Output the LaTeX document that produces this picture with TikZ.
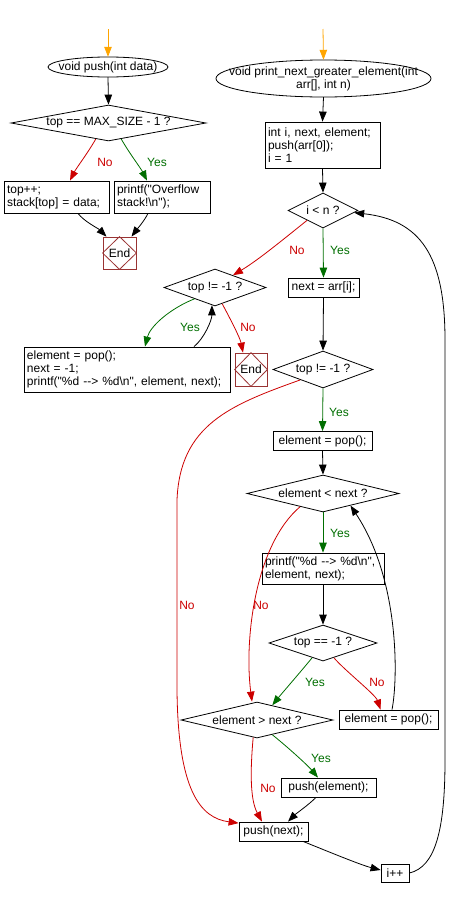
\documentclass[tikz,border=0pt]{standalone}
\usepackage{fontspec}
\setmainfont{Liberation Sans}
\usetikzlibrary{shapes.geometric,arrows.meta,calc}
\definecolor{orng}{RGB}{255,165,0}
\definecolor{redc}{RGB}{204,0,0}
\definecolor{grnc}{RGB}{0,110,0}
\definecolor{endc}{RGB}{153,51,51}
\begin{document}
\begin{tikzpicture}[x=1pt,y=-1pt,
  every node/.style={font=\fontsize{12}{12.8}\selectfont},
  lw/.style={line width=0.8pt},
  proc/.style={draw, rectangle, lw, inner xsep=3pt, inner ysep=0pt},
  dec/.style={draw, diamond, lw, inner sep=0pt},
  term/.style={rectangle, inner sep=0pt},
  endbox/.style={draw=endc, rectangle, lw, inner sep=0pt, minimum width=33pt, minimum height=32pt},
  arr/.style={lw, -{Triangle[length=10pt,width=7.5pt]}},
  yesl/.style={arr, grnc},
  nol/.style={arr, redc},
  startarr/.style={arr, orng},
  ylab/.style={text=grnc},
  nlab/.style={text=redc},
]
\useasboundingbox (0,0) rectangle (453,897);

% left flow
\node[term, minimum width=120pt, minimum height=20pt] (push) at (108,67) {void push(int data)};
\draw[lw] (push.center) ellipse [x radius=60pt, y radius=10pt];
\node[dec, minimum width=195pt, minimum height=36pt, shape aspect=5.42] (d1) at (108.5,123) {top == MAX\_SIZE - 1 ?};
\node[proc, text width=99pt, minimum height=32pt, align=left] (b1) at (56.5,197) {top++;\\stack[top] = data;};
\node[proc, text width=90pt, minimum height=32pt, align=left] (b2) at (162,197) {printf(\textquotedbl Overflow\\stack!\textbackslash n\textquotedbl);};
\node[endbox] (end1) at (119.5,253) {End};
\draw[endc, lw] (end1.north) -- (end1.east) -- (end1.south) -- (end1.west) -- cycle;

% right flow
\node[term, minimum width=215pt, minimum height=37pt, align=center] (pnge) at (323.5,78.5) {void print\_next\_greater\_element(int\\arr[], int n)};
\draw[lw] (pnge.center) ellipse [x radius=107.5pt, y radius=18.5pt];
\node[proc, text width=109pt, minimum height=46pt, align=left] (b3) at (322.5,145) {int i, next, element;\\push(arr[0]);\\i = 1};
\node[dec, minimum width=70pt, minimum height=35pt, shape aspect=2] (d2) at (323,210.5) {i < n ?};
\node[proc, minimum width=71pt, minimum height=19pt] (b4) at (323.5,287.5) {next = arr[i];};
\node[dec, minimum width=102pt, minimum height=37pt, shape aspect=2.76] (d3) at (215,287.5) {top != -1 ?};
\node[proc, text width=200pt, minimum height=45pt, align=left] (b5) at (127,369.5) {element = pop();\\next = -1;\\printf(\textquotedbl\%d -{}-> \%d\textbackslash n\textquotedbl, element, next);};
\node[endbox, minimum width=32pt, minimum height=33pt] (end2) at (251,369.5) {End};
\draw[endc, lw] (end2.north) -- (end2.east) -- (end2.south) -- (end2.west) -- cycle;
\node[dec, minimum width=100pt, minimum height=37pt, shape aspect=2.7] (d4) at (323,369.5) {top != -1 ?};
\node[proc, minimum width=99pt, minimum height=19pt] (b6) at (322.5,441) {element = pop();};
\node[dec, minimum width=152pt, minimum height=37pt, shape aspect=4.1] (d5) at (323,493.5) {element < next ?};
\node[proc, text width=116pt, minimum height=31pt, align=left] (b7) at (323,568.5) {printf(\textquotedbl\%d -{}-> \%d\textbackslash n\textquotedbl,\\element, next);};
\node[dec, minimum width=108pt, minimum height=36pt, shape aspect=3] (d6) at (323,643) {top == -1 ?};
\node[dec, minimum width=152pt, minimum height=36pt, shape aspect=4.22] (d7) at (257,720) {element > next ?};
\node[proc, minimum width=99pt, minimum height=19pt] (b8) at (388.5,719.5) {element = pop();};
\node[proc, minimum width=95pt, minimum height=19pt] (b9) at (328.5,787.5) {push(element);};
\node[proc, minimum width=69pt, minimum height=19pt] (b10) at (273.5,831.5) {push(next);};
\node[proc, minimum width=28pt, minimum height=18pt] (b11) at (395,873) {i++};

% connectors left
\coordinate (o1) at (108,29);
\coordinate (o2) at (323,29);
\draw[startarr] (o1) -- (push.north);
\draw[startarr] (o2) -- (pnge.north);
\draw[arr] (push.south) -- (d1.north);
\draw[nol] ($(d1.south)!0.13!(d1.west)$) .. controls +(-8,14) and +(6,-12) .. ([xshift=13.5pt]b1.north);
\node[nlab] (l1) at (105,162) {No};
\draw[yesl] ($(d1.south)!0.13!(d1.east)$) .. controls +(8,14) and +(-6,-12) .. ([xshift=-15pt]b2.north);
\node[ylab] (l2) at (157,162) {Yes};
\draw[arr] ([xshift=21.5pt]b1.south) .. controls +(6,8) and +(-8,-8) .. ([xshift=-13pt]end1.north);
\draw[arr] ([xshift=-14pt]b2.south) .. controls +(-4,8) and +(6,-8) .. ([xshift=12pt]end1.north);

% connectors right
\draw[arr] (pnge.south) -- (b3.north);
\draw[arr] (b3.south) -- (d2.north);
\draw[nol] ($(d2.south)!0.45!(d2.west)$) .. controls +(-25,20) and +(25,-15) .. ($(d3.north)!0.35!(d3.east)$);
\node[nlab] (l3) at (297,250) {No};
\draw[yesl] (d2.south) -- (b4.north);
\node[ylab] (l4) at (340,250) {Yes};
\draw[yesl] ($(d3.south)!0.4!(d3.west)$) .. controls +(-25,10) and +(5,-20) .. ([xshift=18pt]b5.north);
\node[ylab] (l5) at (190,327) {Yes};
\draw[arr] ([xshift=67pt]b5.north) .. controls +(10,-8) and +(0,15) .. ($(d3.south)!0.06!(d3.west)$);
\draw[nol] ($(d3.south)!0.14!(d3.east)$) .. controls +(8,15) and +(-3,-15) .. ([xshift=-8pt]end2.north);
\node[nlab] (l6) at (248,327) {No};
\draw[arr] (b4.south) -- (d4.north);
\draw[yesl] (d4.south) -- (b6.north);
\node[ylab] (l7) at (339,412) {Yes};
\draw[nol] ($(d4.south)!0.45!(d4.west)$) .. controls (230,405) and (180,425) .. (177,500) -- (177,690) .. controls (178,790) and (200,818) .. ([yshift=-1.5pt]b10.north west);
\node[nlab] (l8) at (187,605) {No};
\draw[arr] (b6.south) -- (d5.north);
\draw[yesl] (d5.south) -- (b7.north);
\node[ylab] (l9) at (340,533) {Yes};
\draw[nol] ($(d5.south)!0.3!(d5.west)$) .. controls (255,545) and (244,640) .. ([xshift=-5pt]d7.north);
\node[nlab] (l10) at (261,605) {No};
\draw[arr] (b7.south) -- (d6.north);
\draw[yesl] ($(d6.south)!0.2!(d6.west)$) .. controls +(-8,10) and +(8,-10) .. ($(d7.north)!0.2!(d7.east)$);
\node[ylab] (l11) at (315,682) {Yes};
\draw[nol] ($(d6.south)!0.2!(d6.east)$) .. controls +(10,12) and +(-5,-15) .. ([xshift=-8pt]b8.north);
\node[nlab] (l12) at (377,682) {No};
\draw[arr] ([xshift=3.5pt]b8.north) .. controls (398,680) and (400,580) .. ($(d5.south)!0.36!(d5.east)$);
\draw[yesl] ($(d7.south)!0.2!(d7.east)$) .. controls +(15,12) and +(-10,-12) .. ([xshift=-10.5pt]b9.north);
\node[ylab] (l13) at (321,758) {Yes};
\draw[nol] ($(d7.south)!0.05!(d7.west)$) .. controls +(-3,33) and +(-12,-22) .. ([xshift=-11.5pt]b10.north);
\node[nlab] (l14) at (268,788) {No};
\draw[arr] ([xshift=-12.5pt]b9.south) .. controls +(-8,8) and +(8,-8) .. ([xshift=14.5pt]b10.north);
\draw[arr] ([xshift=29.5pt]b10.south) .. controls +(20,8) and +(-20,-5) .. ([yshift=3pt]b11.west);
\draw[arr] (b11.east) .. controls +(26,-6) and +(0,70) .. (445,760) -- (445,340) .. controls (445,255) and (420,220) .. ($(d2.east)!0.12!(d2.south)$);
\end{tikzpicture}
\end{document}
